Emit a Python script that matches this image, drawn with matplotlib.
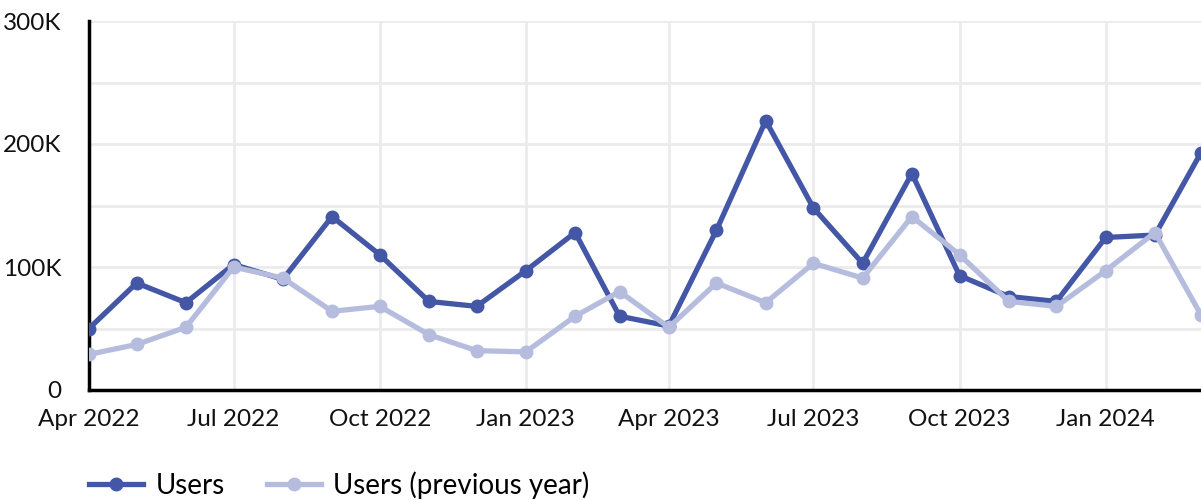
import numpy as np
import pandas as pd
import matplotlib
matplotlib.use('Agg')
import matplotlib.pyplot as plt
import matplotlib.dates as mdates

months = pd.date_range('2022-04-01', '2024-03-01', freq='MS')
users = [50, 87, 71, 102, 90, 141, 110, 72, 68, 97, 128, 60,
         52, 130, 219, 148, 103, 176, 93, 76, 72, 124, 126, 193]
users_prev = [29, 37, 51, 100, 91, 64, 68, 45, 32, 31, 60, 80,
              51, 87, 71, 103, 91, 141, 110, 72, 68, 97, 128, 61]
y_ticks = [0, 100, 200, 300]
y_labels = ['0', '100K', '200K', '300K']

plt.rcParams['font.family'] = ['Lato', 'DejaVu Sans']

fig = plt.figure(figsize=(12.01, 5), dpi=100)
ax = fig.add_axes([89/1201, 110/500, 1112/1201, 369/500])

dark = '#4457a6'
light = '#b5bcdd'

ax.plot(months, users, color=dark, lw=3.8, marker='o', ms=9, label='Users', zorder=3)
ax.plot(months, users_prev, color=light, lw=3.8, marker='o', ms=9,
        label='Users (previous year)', zorder=4)

ax.set_xlim(months[0], months[-1])
ax.set_ylim(0, 300)
ax.set_yticks(y_ticks)
ax.set_yticklabels(y_labels)
ax.set_yticks(np.arange(0, 301, 50), minor=True)
ax.xaxis.set_major_locator(mdates.MonthLocator(bymonth=[1, 4, 7, 10]))
ax.xaxis.set_major_formatter(mdates.DateFormatter('%b %Y'))

ax.grid(True, which='both', axis='y', color='#ebebeb', lw=2)
ax.grid(True, which='major', axis='x', color='#ebebeb', lw=2)
ax.set_axisbelow(True)

ax.tick_params(axis='both', which='both', length=0, labelsize=17.5, colors='#111111')
ax.tick_params(axis='x', pad=14)
ax.tick_params(axis='y', pad=20)

for s in ['top', 'right']:
    ax.spines[s].set_visible(False)
ax.spines['left'].set_linewidth(2.5)
ax.spines['bottom'].set_linewidth(2.5)
ax.spines['left'].set_color('black')
ax.spines['bottom'].set_color('black')

fig.legend(loc='center left', bbox_to_anchor=(89/1201, 15/500), ncol=2, frameon=False,
           fontsize=20, handlelength=1.95, columnspacing=1.5, handletextpad=0.45,
           borderpad=0, borderaxespad=0)

fig.savefig('out.png', dpi=100)
